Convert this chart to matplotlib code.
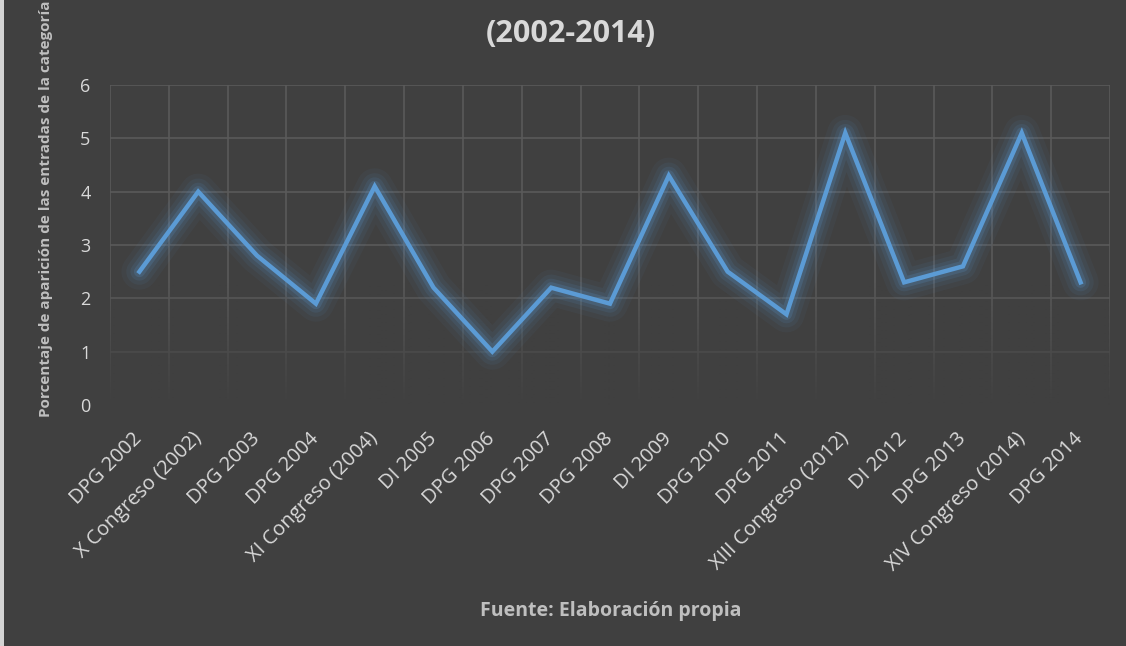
import numpy as np
import matplotlib
matplotlib.use("Agg")
import matplotlib.pyplot as plt
from matplotlib.patches import Rectangle

categorias = ["DPG 2002", "X Congreso (2002)", "DPG 2003", "DPG 2004", "XI Congreso (2004)",
              "DI 2005", "DPG 2006", "DPG 2007", "DPG 2008", "DI 2009", "DPG 2010", "DPG 2011",
              "XIII Congreso (2012)", "DI 2012", "DPG 2013", "XIV Congreso (2014)", "DPG 2014"]
porcentajes = [2.5, 4.0, 2.8, 1.9, 4.1, 2.2, 1.0, 2.2, 1.9, 4.3, 2.5, 1.7, 5.1, 2.3, 2.6, 5.1, 2.3]
y_ticks = [0, 1, 2, 3, 4, 5, 6]

fondo = "#404040"
texto = "#d9d9d9"
azul = "#5b9bd5"

plt.rcParams['font.family'] = ['Open Sans', 'DejaVu Sans']

fig = plt.figure(figsize=(11.26, 6.46), dpi=100)
fig.patch.set_facecolor(fondo)
ax = fig.add_axes([110/1126, 1 - 405/646, 1000/1126, 320/646])
ax.set_facecolor(fondo)

n = len(categorias)
x = np.arange(n)

# rejilla: lineas en los limites de las categorias
for b in np.arange(-0.5, n, 1.0):
    ax.axvline(b, color="#5a5a5a", lw=1.2, zorder=0.5)
for t in y_ticks:
    ax.axhline(t, color="#5a5a5a", lw=1.2, zorder=0.5)

# degradado que difumina la parte baja de la rejilla
grad = np.zeros((200, 2, 4))
rgb = matplotlib.colors.to_rgb(fondo)
grad[..., 0], grad[..., 1], grad[..., 2] = rgb
alpha = np.clip((2.3 - np.linspace(0, 6, 200)) / 2.3, 0, 1)
grad[..., 3] = alpha[:, None]
ax.imshow(grad, extent=[-0.5, n - 0.5, 0, 6], origin="lower", aspect="auto", zorder=0.8)

# brillo alrededor de la linea
for w, a in [(26, 0.05), (19, 0.07), (13, 0.11), (8, 0.18)]:
    ax.plot(x, porcentajes, color=azul, lw=w, alpha=a, solid_joinstyle="round",
            solid_capstyle="round", zorder=1)
ax.plot(x, porcentajes, color=azul, lw=3.2, solid_joinstyle="miter", zorder=2)

ax.set_xlim(-0.5, n - 0.5)
ax.set_ylim(0, 6)
ax.set_yticks(y_ticks)
ax.set_yticklabels([str(t) for t in y_ticks], color=texto, fontsize=13)
ax.set_xticks(x)
ax.set_xticklabels(categorias, rotation=45, ha="right", va="center", rotation_mode="anchor",
                   color=texto, fontsize=14.5)
ax.tick_params(axis="x", length=0, pad=22)
ax.tick_params(axis="y", length=0, pad=14)
for s in ax.spines.values():
    s.set_visible(False)

fig.text(46/1126, 1 - 209/646, "Porcentaje de aparición de las entradas de la categoría",
         rotation=90, ha="center", va="center", color="#bfbfbf", fontsize=11, fontweight="bold")
fig.text(571/1126, 1 - 34/646, "(2002-2014)", ha="center", va="center", color=texto,
         fontsize=22, fontweight="bold")
fig.text(611/1126, 1 - 611/646, "Fuente: Elaboración propia", ha="center", va="center",
         color="#bfbfbf", fontsize=14, fontweight="bold")

# franja clara en el borde izquierdo
fig.patches.append(Rectangle((0, 0), 4/1126, 1, transform=fig.transFigure,
                             facecolor="#d4d4d4", edgecolor="none"))

fig.savefig("out.png", dpi=100, facecolor=fondo)
